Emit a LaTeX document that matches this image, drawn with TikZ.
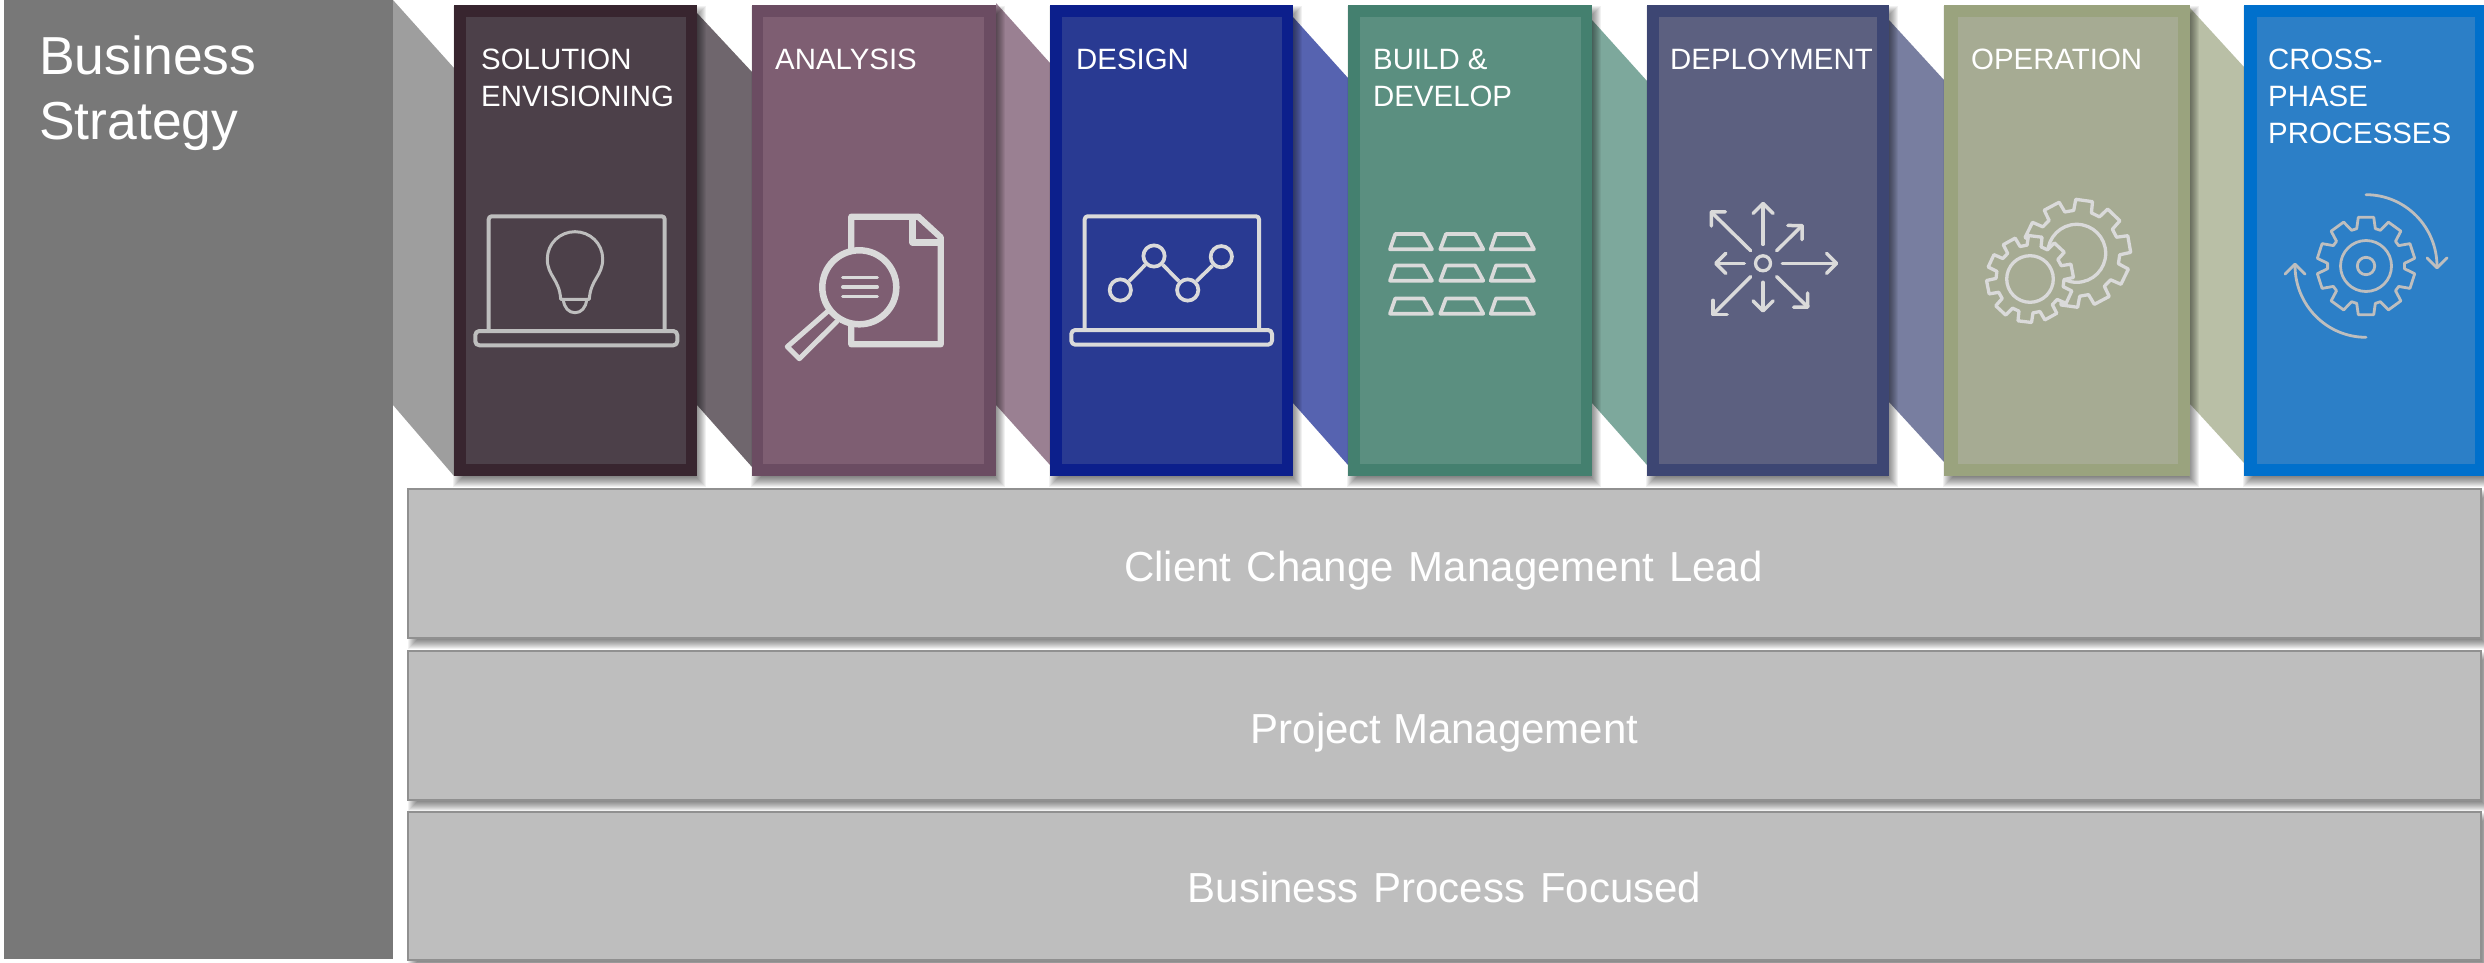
\documentclass[tikz,border=0pt]{standalone}
\usepackage{fontspec}
\setmainfont{Liberation Sans}
\usetikzlibrary{arrows.meta}
\definecolor{panel}{HTML}{787878}
\definecolor{bandfill}{HTML}{BEBEBE}
\definecolor{bandedge}{HTML}{909090}
\definecolor{iconlight}{HTML}{DADADA}
\definecolor{icondim}{HTML}{BEBEBE}
\definecolor{jA}{HTML}{9E9E9E}
\definecolor{jB}{HTML}{6F666D}
\definecolor{jC}{HTML}{9A8092}
\definecolor{jD}{HTML}{5663B0}
\definecolor{jE}{HTML}{7DA89C}
\definecolor{jF}{HTML}{787EA0}
\definecolor{jG}{HTML}{B9BFA6}
\definecolor{oA}{HTML}{38252F}
\definecolor{iA}{HTML}{4C4049}
\definecolor{oB}{HTML}{6B4C62}
\definecolor{iB}{HTML}{7E5E72}
\definecolor{oC}{HTML}{0C1F8C}
\definecolor{iC}{HTML}{293A92}
\definecolor{oD}{HTML}{44806F}
\definecolor{iD}{HTML}{5B8F80}
\definecolor{oE}{HTML}{3D4673}
\definecolor{iE}{HTML}{5C6080}
\definecolor{oF}{HTML}{9AA37E}
\definecolor{iF}{HTML}{A6AB93}
\definecolor{oG}{HTML}{0070CC}
\definecolor{iG}{HTML}{2C7FC7}
\newcommand{\widewords}{\spaceskip=0.36em\relax}
\tikzset{
  px/.style={x=1pt,y=-1pt},
  coltext/.style={text=white,anchor=north west,inner sep=0pt,align=left,font=\fontsize{29.4}{37}\selectfont},
  bandtext/.style={text=white,anchor=base,inner sep=0pt,font=\fontsize{42}{50}\selectfont},
  icon/.style={draw=#1,line cap=round,line join=round,fill=none},
  barb/.style={-{Straight Barb[length=10pt,width=20pt,line cap=round,round]}},
}
% soft shadow, offset down-right
\newcommand{\softshadow}[6]{%
  \foreach \s in {-5,-4,...,5}{%
    \fill[black,opacity=0.055] ({#1+#5-\s},{#2+#6-\s}) rectangle ({#3+#5+\s},{#4+#6+\s});}}
% column: x1 x2 ix1 ix2 outer inner
\newcommand{\column}[6]{%
  \fill[#5] (#1,4.5) rectangle (#2,476);
  \fill[#6] (#3,17) rectangle (#4,464);}
\newcommand{\gearoutline}[5]{({#3-#5}:#2) \foreach \k in {0,...,9}{ -- ({#3+36*\k-#5}:#2) -- ({#3+36*\k-#4}:#1) -- ({#3+36*\k+#4}:#1) -- ({#3+36*\k+#5}:#2)} -- cycle}
\begin{document}
\begin{tikzpicture}[px]
\useasboundingbox (0,0) rectangle (2484,962);
\fill[white] (0,0) rectangle (2484,962);
% left panel
\fill[panel] (4,0) rectangle (393,959);
\node[text=white,anchor=north west,inner sep=0pt,align=left,font=\fontsize{53.5}{65}\selectfont] (strategy) at (39,36) {Business\\Strategy};
% joints between the phases
\fill[jA] (393,0) -- (454,68) -- (454,476) -- (393,405) -- cycle;
\fill[jB] (697,13) -- (752,72) -- (752,467) -- (697,405) -- cycle;
\fill[jC] (996,3) -- (1050,63) -- (1050,465) -- (996,405) -- cycle;
\fill[jD] (1293,17) -- (1348,78) -- (1348,465) -- (1293,403) -- cycle;
\fill[jE] (1592,20) -- (1647,81) -- (1647,465) -- (1592,403) -- cycle;
\fill[jF] (1889,20) -- (1944,80) -- (1944,462) -- (1889,402) -- cycle;
\fill[jG] (2190,8) -- (2244,67) -- (2244,463) -- (2190,404) -- cycle;
% shadows
\softshadow{454}{5}{697}{476}{4}{6}
\softshadow{752}{5}{996}{476}{4}{6}
\softshadow{1050}{5}{1293}{476}{4}{6}
\softshadow{1348}{5}{1592}{476}{4}{6}
\softshadow{1647}{5}{1889}{476}{4}{6}
\softshadow{1944}{5}{2190}{476}{4}{6}
\softshadow{2244}{5}{2490}{476}{4}{6}
% phases
\column{454}{697}{466}{686}{oA}{iA}
\column{752}{996}{763}{984}{oB}{iB}
\column{1050}{1293}{1062}{1282}{oC}{iC}
\column{1348}{1592}{1360}{1581}{oD}{iD}
\column{1647}{1889}{1659}{1877}{oE}{iE}
\column{1944}{2190}{1958}{2178}{oF}{iF}
\column{2244}{2490}{2257}{2475}{oG}{iG}
\node[coltext] (t1) at (481,49) {SOLUTION\\ENVISIONING};
\node[coltext] (t2) at (775,49) {ANALYSIS};
\node[coltext] (t3) at (1076,49) {DESIGN};
\node[coltext] (t4) at (1373,49) {BUILD \&\\DEVELOP};
\node[coltext] (t5) at (1670,49) {DEPLOYMENT};
\node[coltext] (t6) at (1971,49) {OPERATION};
\node[coltext] (t7) at (2268,49) {CROSS-\\PHASE\\PROCESSES};
% bands
\softshadow{408}{489}{2481}{638}{5}{6}
\softshadow{408}{651}{2481}{800}{5}{6}
\softshadow{408}{812}{2481}{960}{5}{6}
\draw[bandedge,fill=bandfill,line width=1.2pt] (408,489) rectangle (2481,638);
\draw[bandedge,fill=bandfill,line width=1.2pt] (408,651) rectangle (2481,800);
\draw[bandedge,fill=bandfill,line width=1.2pt] (408,812) rectangle (2481,960);
\node[bandtext] (b1) at (1443.5,581) {\widewords Client Change Management Lead};
\node[bandtext] (b2) at (1444.5,743) {Project Management};
\node[bandtext] (b3) at (1444.5,902) {\widewords Business Process Focused};
% icon 1: laptop and bulb
\draw[icon=icondim,line width=4pt,rounded corners=3pt] (488.7,331) -- (488.7,216.3) -- (664.7,216.3) -- (664.7,331);
\draw[icon=icondim,line width=4pt,rounded corners=4pt] (475.3,331) -- (475.3,345.3) -- (677.3,345.3) -- (677.3,331) -- cycle;
\draw[icon=icondim,line width=3pt] (560.7,299.3) .. controls (559.5,279) and (547.3,276) .. (547.3,259) .. controls (547.3,243.7) and (559.7,231.7) .. (575,231.7) .. controls (590.3,231.7) and (602.7,243.7) .. (602.7,259) .. controls (602.7,276) and (590.5,279) .. (589.3,299.3) -- cycle;
\draw[icon=icondim,line width=3pt] (563.3,299.3) .. controls (564,308) and (569,312.7) .. (575,312.7) .. controls (581,312.7) and (586,308) .. (586.7,299.3);
% icon 2: document and magnifier
\draw[icon=iconlight,line width=6.3pt] (851.3,250) -- (851.3,216.7) -- (918.3,216.7) -- (940.7,237.3) -- (940.7,344.3) -- (851.3,344.3) -- (851.3,325);
\draw[icon=iconlight,line width=6.3pt] (912.5,218) -- (912.5,242.5) -- (940.7,242.5);
\draw[icon=iconlight,line width=6.5pt] (859.3,287.3) circle[radius=37];
\draw[icon=iconlight,line width=3.3pt] (842.7,277.3) -- (877.3,277.3) (842.7,287) -- (877.3,287) (842.7,296.7) -- (877.3,296.7);
\draw[icon=iconlight,line width=5pt] (827.3,311.7) -- (787.3,346.7) -- (799.3,358.7) -- (836.7,321.7);
% icon 3: laptop and chart
\draw[icon=iconlight,line width=4pt,rounded corners=3pt] (1084.7,330) -- (1084.7,216.3) -- (1259,216.3) -- (1259,330);
\draw[icon=iconlight,line width=4pt,rounded corners=4pt] (1071.3,330) -- (1071.3,344.7) -- (1272,344.7) -- (1272,330) -- cycle;
\foreach \nm/\cx/\cy in {c1/1120.3/290,c2/1154/256,c3/1187.7/290,c4/1221.3/256.7}
  \node[draw=iconlight,line width=3.7pt,circle,inner sep=0pt,minimum size=21.3pt] (\nm) at (\cx,\cy) {};
\draw[icon=iconlight,line width=3.7pt,line cap=butt] (c1) -- (c2);
\draw[icon=iconlight,line width=3.7pt,line cap=butt] (c2) -- (c3);
\draw[icon=iconlight,line width=3.7pt,line cap=butt] (c3) -- (c4);
% icon 4: ingots
\foreach \dy in {0,31.4,64.4}
  \foreach \xa/\xb/\xc/\xd in {1390/1395.3/1423.3/1432,1440.3/1446/1475/1483.3,1490.7/1496/1526/1534}
    \draw[icon=iconlight,line width=3.7pt] (\xa,249.3+\dy) -- (\xb,234+\dy) -- (\xc,234+\dy) -- (\xd,249.3+\dy) -- cycle;
% icon 5: arrows from a hub
\node[draw=iconlight,line width=3.3pt,circle,inner sep=0pt,minimum size=15pt] (hub) at (1763,263.3) {};
\foreach \xa/\ya/\xb/\yb in {1763/244.3/1763/201.7,1763/282.3/1763/312.7,1744.3/263.3/1714/263.3,1782.3/263.3/1838.3/263.3,1750.7/250.7/1710/210.7,1776.7/250.7/1803.3/224.3,1750.7/276.7/1711.7/315.7,1776.7/276.7/1809/308.3}
  \draw[icon=iconlight,line width=3.5pt,barb] (\xa,\ya) -- (\xb,\yb);
% icon 6: two gears
\begin{scope}[shift={(2076.7,253.3)}]
  \draw[icon=iconlight,line width=3.3pt] \gearoutline{54}{43}{-82}{9}{12};
  \draw[icon=iconlight,line width=3.3pt] (0,0) circle[radius=29];
\end{scope}
\begin{scope}[shift={(2030,279)}]
  \draw[icon=iconlight,line width=3.3pt,fill=iF] \gearoutline{43.5}{34}{-83}{9}{12};
  \draw[icon=iconlight,line width=3.3pt] (0,0) circle[radius=23.3];
\end{scope}
% icon 7: gear in a cycle
\begin{scope}[shift={(2366,266)}]
  \draw[icon=icondim,line width=2.8pt] \gearoutline{49.3}{38.5}{-90}{9}{14};
  \draw[icon=icondim,line width=2.8pt] (0,0) circle[radius=25.5];
  \draw[icon=icondim,line width=2.8pt] (0,0) circle[radius=8.7];
  \draw[icon=icondim,line width=2.8pt,barb] (0,-71.3) .. controls (39.2,-71.3) and (71,-39.2) .. (71,3.3);
  \draw[icon=icondim,line width=2.8pt,barb] (0,71.3) .. controls (-39.2,71.3) and (-71,39.2) .. (-71,-3.3);
\end{scope}
\end{tikzpicture}
\end{document}
